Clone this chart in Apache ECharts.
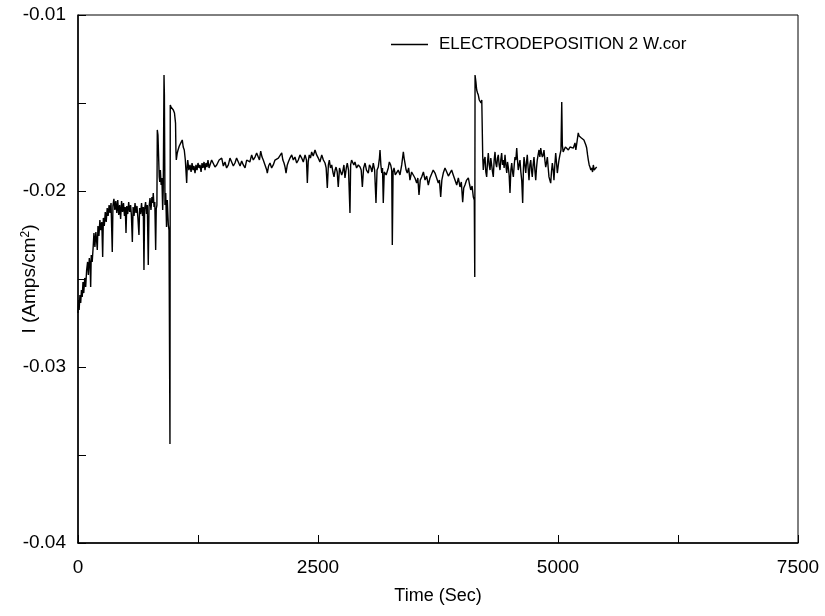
<!DOCTYPE html>
<html>
<head>
<meta charset="utf-8">
<script src="https://cdn.jsdelivr.net/npm/echarts@6/dist/echarts.min.js"></script>
<style>
  html, body { margin: 0; padding: 0; background: #fff; }
  #chart { width: 825px; height: 616px; }
</style>
</head>
<body>
<div id="chart"></div>
<script>
// Current density (A/cm^2) versus time (s), electrodeposition run 2.
// Each segment is a list of [time, current] samples.

// initial ramp: current recovers from about -0.027 towards -0.021
const rampSegment = [
  [0,-0.02693],[6,-0.02619],[12,-0.02676],[20,-0.02591],[28,-0.02636],[36,-0.02563],[44,-0.02602],
  [52,-0.02517],[60,-0.02580],[70,-0.02494],[80,-0.02545],[90,-0.02449],[100,-0.02403],[108,-0.02477],
  [118,-0.02381],[126,-0.02420],[132,-0.02545],[138,-0.02364],[148,-0.02403],[158,-0.02318],[166,-0.02239],
  [176,-0.02318],[186,-0.02233],[194,-0.02284],[201,-0.02335],[208,-0.02199],[218,-0.02256],[228,-0.02165],
  [238,-0.02222],[248,-0.02176],[257,-0.02375],[264,-0.02153],[274,-0.02199],[284,-0.02119],[294,-0.02176],
  [304,-0.02097],[314,-0.02142],[324,-0.02080],[334,-0.02125],[344,-0.02068],[357,-0.02347],[364,-0.02085],
  [374,-0.02045],[384,-0.02108],[394,-0.02057],[404,-0.02125],[414,-0.02051],[424,-0.02136],[434,-0.02080],
  [444,-0.02159],[454,-0.02057],[464,-0.02119],[474,-0.02068],[484,-0.02142],[492,-0.02091],[500,-0.02239],
  [508,-0.02085],[518,-0.02131],[528,-0.02063],[538,-0.02119],[548,-0.02080],[556,-0.02136],[566,-0.02290],
  [574,-0.02091],[584,-0.02142],[594,-0.02068],[604,-0.02125],[614,-0.02085],[624,-0.02153],[635,-0.02250],
  [642,-0.02097],[652,-0.02131],[662,-0.02068],[672,-0.02142],[680,-0.02091],[687,-0.02449],[694,-0.02102],
  [704,-0.02063],[714,-0.02131],[722,-0.02080],[732,-0.02420],[740,-0.02091],[750,-0.02040],[760,-0.02108],
  [770,-0.02034],[778,-0.02068],[784,-0.02011],[792,-0.02091],[800,-0.02063],[809,-0.02335],[815,-0.02102]
];

// transients around 800-1150 s
const transientSegment = [
  [822,-0.02080],[826,-0.01653],[833,-0.01682],[841,-0.01693],[846,-0.01920],[852,-0.01949],[858,-0.01881],
  [866,-0.01966],[874,-0.01926],[882,-0.02108],[888,-0.01994],[896,-0.01341],[900,-0.01455],[906,-0.02080],
  [914,-0.02011],[922,-0.02205],[930,-0.02051],[941,-0.02193],[948,-0.02222],[955,-0.02233],[958,-0.03438],
  [961,-0.01511],[970,-0.01523],[979,-0.01528],[993,-0.01540],[1005,-0.01557],[1016,-0.01614],[1020,-0.01767],
  [1024,-0.01824],[1034,-0.01784],[1042,-0.01767],[1055,-0.01744],[1063,-0.01739],[1075,-0.01722],
  [1086,-0.01710],[1096,-0.01750],[1107,-0.01767],[1118,-0.01824],[1132,-0.01955],[1138,-0.01858],
  [1143,-0.01824]
];

// long plateau, slowly drifting from -0.0185 to -0.0200
const plateauSegment = [
  [1155,-0.01881],[1167,-0.01852],[1178,-0.01892],[1188,-0.01841],[1198,-0.01881],[1208,-0.01858],
  [1219,-0.01898],[1229,-0.01852],[1240,-0.01881],[1250,-0.01841],[1261,-0.01869],[1271,-0.01852],
  [1282,-0.01892],[1292,-0.01841],[1302,-0.01869],[1313,-0.01835],[1323,-0.01881],[1333,-0.01841],
  [1344,-0.01864],[1354,-0.01824],[1365,-0.01869],[1375,-0.01852],[1392,-0.01824],[1409,-0.01835],
  [1427,-0.01864],[1445,-0.01852],[1470,-0.01824],[1497,-0.01813],[1514,-0.01858],[1531,-0.01835],
  [1548,-0.01869],[1566,-0.01852],[1583,-0.01813],[1601,-0.01818],[1618,-0.01858],[1635,-0.01841],
  [1652,-0.01813],[1670,-0.01835],[1688,-0.01858],[1705,-0.01830],[1722,-0.01852],[1740,-0.01869],
  [1757,-0.01824],[1774,-0.01813],[1790,-0.01835],[1809,-0.01795],[1826,-0.01824],[1844,-0.01807],
  [1861,-0.01784],[1878,-0.01795],[1890,-0.01824],[1903,-0.01773],[1917,-0.01807],[1930,-0.01824],
  [1948,-0.01852],[1966,-0.01881],[1972,-0.01898],[1985,-0.01858],[2000,-0.01841],[2017,-0.01869],
  [2034,-0.01852],[2052,-0.01824],[2070,-0.01835],[2087,-0.01813],[2104,-0.01807],[2122,-0.01784],
  [2134,-0.01824],[2146,-0.01841],[2157,-0.01864],[2167,-0.01898],[2180,-0.01852],[2191,-0.01835],
  [2208,-0.01813],[2226,-0.01795],[2243,-0.01824],[2260,-0.01807],[2278,-0.01841],[2295,-0.01824],
  [2312,-0.01795],[2330,-0.01813],[2347,-0.01835],[2365,-0.01795],[2380,-0.01824],[2389,-0.01955],
  [2398,-0.01835],[2409,-0.01795],[2422,-0.01813],[2434,-0.01778],[2450,-0.01801],[2469,-0.01767],
  [2486,-0.01795],[2503,-0.01813],[2520,-0.01835],[2539,-0.01795],[2556,-0.01824],[2573,-0.01841],
  [2585,-0.01869],[2597,-0.01983],[2608,-0.01852],[2618,-0.01824],[2630,-0.01869],[2643,-0.01852],
  [2655,-0.01892],[2667,-0.01920],[2678,-0.01881],[2688,-0.01864],[2700,-0.01892],[2711,-0.01977],
  [2724,-0.01869],[2737,-0.01864],[2747,-0.01909],[2757,-0.01892],[2770,-0.01852],[2781,-0.01926],
  [2795,-0.01869],[2805,-0.01841],[2818,-0.01881],[2828,-0.01892],[2833,-0.02125],[2840,-0.01852],
  [2850,-0.01824],[2862,-0.01813],[2873,-0.01852],[2885,-0.01835],[2902,-0.01869],[2920,-0.01852],
  [2938,-0.01864],[2950,-0.01881],[2962,-0.01977],[2975,-0.01869],[2990,-0.01841],[3005,-0.01881],
  [3024,-0.01898],[3036,-0.01852],[3049,-0.01864],[3062,-0.01892],[3076,-0.01841],[3090,-0.01881],
  [3104,-0.02068],[3115,-0.01881],[3128,-0.01864],[3140,-0.01813],[3146,-0.01767],[3155,-0.01852],
  [3164,-0.01898],[3172,-0.01869],[3180,-0.02068],[3190,-0.01892],[3198,-0.01881],[3210,-0.01909],
  [3222,-0.01920],[3232,-0.01869],[3243,-0.01835],[3257,-0.01852],[3268,-0.01881],[3274,-0.02307],
  [3282,-0.01892],[3292,-0.01869],[3305,-0.01909],[3320,-0.01898],[3336,-0.01881],[3354,-0.01909],
  [3372,-0.01852],[3389,-0.01778],[3397,-0.01813],[3406,-0.01841],[3418,-0.01881],[3430,-0.01898],
  [3444,-0.01869],[3458,-0.01938],[3475,-0.01892],[3493,-0.01898],[3510,-0.01926],[3528,-0.01955],
  [3540,-0.01926],[3552,-0.02023],[3565,-0.01938],[3580,-0.01920],[3598,-0.01892],[3615,-0.01938],
  [3632,-0.01915],[3649,-0.01966],[3666,-0.01926],[3684,-0.01926],[3700,-0.01881],[3719,-0.01898],
  [3736,-0.01926],[3753,-0.01955],[3765,-0.01938],[3778,-0.02034],[3790,-0.01938],[3805,-0.01898],
  [3823,-0.01869],[3841,-0.01892],[3858,-0.01915],[3875,-0.01926],[3892,-0.01881],[3909,-0.01909],
  [3927,-0.01938],[3945,-0.01966],[3962,-0.01926],[3979,-0.01977],[3993,-0.01949],[4007,-0.02063],
  [4018,-0.01983],[4031,-0.01966],[4048,-0.01938],[4066,-0.01926],[4080,-0.01966],[4091,-0.01994],
  [4105,-0.01972],[4118,-0.02034],[4128,-0.02051]
];

// second disturbance near 4130 s and the noisy final stage
const finalSegment = [
  [4133,-0.02489],[4136,-0.01341],[4145,-0.01381],[4153,-0.01426],[4162,-0.01443],[4170,-0.01455],
  [4180,-0.01483],[4188,-0.01483],[4198,-0.01500],[4206,-0.01483],[4211,-0.01494],[4216,-0.01807],
  [4222,-0.01881],[4231,-0.01824],[4240,-0.01807],[4248,-0.01892],[4257,-0.01920],[4266,-0.01835],
  [4274,-0.01784],[4283,-0.01852],[4292,-0.01881],[4300,-0.01813],[4309,-0.01807],[4318,-0.01892],
  [4326,-0.01920],[4335,-0.01824],[4344,-0.01778],[4352,-0.01841],[4361,-0.01864],[4370,-0.01813],
  [4378,-0.01795],[4387,-0.01852],[4396,-0.01881],[4404,-0.01824],[4413,-0.01784],[4422,-0.01852],
  [4430,-0.01824],[4439,-0.01869],[4448,-0.01795],[4457,-0.01852],[4466,-0.01898],[4474,-0.01835],
  [4482,-0.01864],[4491,-0.01909],[4500,-0.02011],[4509,-0.01881],[4518,-0.01841],[4526,-0.01892],
  [4535,-0.01920],[4544,-0.01852],[4552,-0.01807],[4561,-0.01824],[4570,-0.01756],[4578,-0.01824],
  [4586,-0.01881],[4595,-0.01852],[4604,-0.01824],[4613,-0.01892],[4622,-0.01938],[4632,-0.02068],
  [4640,-0.01869],[4646,-0.01807],[4655,-0.01852],[4664,-0.01898],[4672,-0.01835],[4680,-0.01795],
  [4689,-0.01869],[4698,-0.01938],[4707,-0.01852],[4716,-0.01824],[4724,-0.01881],[4732,-0.01920],
  [4741,-0.01852],[4750,-0.01807],[4759,-0.01881],[4768,-0.01938],[4776,-0.01869],[4784,-0.01824],
  [4793,-0.01795],[4802,-0.01767],[4811,-0.01807],[4820,-0.01756],[4828,-0.01784],[4837,-0.01807],
  [4846,-0.01795],[4854,-0.01767],[4863,-0.01824],[4872,-0.01864],[4880,-0.01841],[4889,-0.01807],
  [4898,-0.01869],[4906,-0.01920],[4915,-0.01938],[4924,-0.01955],[4932,-0.01892],[4941,-0.01841],
  [4950,-0.01881],[4958,-0.01938],[4967,-0.01852],[4976,-0.01784],[4984,-0.01835],[4993,-0.01898],
  [5002,-0.01858],[5010,-0.01824],[5020,-0.01795],[5031,-0.01767],[5039,-0.01494],[5045,-0.01739],
  [5054,-0.01778],[5063,-0.01767],[5077,-0.01750],[5091,-0.01756],[5108,-0.01767],[5125,-0.01750],
  [5142,-0.01739],[5160,-0.01756],[5177,-0.01727],[5186,-0.01767],[5195,-0.01778],[5211,-0.01670],
  [5220,-0.01688],[5229,-0.01693],[5244,-0.01699],[5258,-0.01699],[5270,-0.01710],[5281,-0.01710],
  [5290,-0.01739],[5299,-0.01756],[5308,-0.01795],[5316,-0.01824],[5325,-0.01852],[5333,-0.01864],
  [5342,-0.01881],[5351,-0.01869],[5360,-0.01892],[5368,-0.01852],[5377,-0.01881],[5385,-0.01892],
  [5394,-0.01869],[5403,-0.01864]
];

const seriesName = 'ELECTRODEPOSITION 2 W.cor';
const xTitle = 'Time (Sec)';
const yTitle = 'I (Amps/cm{sup|2})';
const xRange = [0, 7500];
const yRange = [-0.04, -0.01];

const currentTrace = rampSegment.concat(transientSegment, plateauSegment, finalSegment);

const FONT = '"Liberation Sans", Arial, Helvetica, sans-serif';
const chart = echarts.init(document.getElementById('chart'), null, { renderer: 'canvas' });

chart.setOption({
  animation: false,
  backgroundColor: '#ffffff',
  grid: {
    left: 78, right: 27, top: 15, bottom: 73,
    outerBoundsMode: 'none',
    containLabel: false,
    show: true, borderColor: '#000', borderWidth: 1
  },
  legend: {
    left: 386, top: 31,
    icon: 'rect',
    itemWidth: 37, itemHeight: 1.3,
    itemStyle: { color: '#000', borderWidth: 0 },
    textStyle: { fontFamily: FONT, fontSize: 17, color: '#000', padding: [0, 0, 0, 6] },
    data: [seriesName]
  },
  xAxis: {
    type: 'value',
    min: xRange[0], max: xRange[1], interval: 1250,
    name: xTitle, nameLocation: 'middle', nameGap: 44,
    nameMoveOverlap: false,
    nameTextStyle: { fontFamily: FONT, fontSize: 18, color: '#000' },
    axisLine: { show: true, lineStyle: { color: '#000', width: 1.5 } },
    axisTick: { show: true, inside: true, length: 8, lineStyle: { color: '#000' } },
    axisLabel: {
      margin: 15, interval: 0, fontFamily: FONT, fontSize: 19, color: '#000',
      formatter: v => (v % 2500 === 0 ? String(v) : '')
    },
    splitLine: { show: false }
  },
  yAxis: {
    type: 'value',
    min: yRange[0], max: yRange[1], interval: 0.005,
    name: yTitle, nameLocation: 'middle', nameGap: 38, nameRotate: 90,
    nameMoveOverlap: false,
    nameTextStyle: {
      fontFamily: FONT, fontSize: 19, color: '#000',
      rich: { sup: { fontFamily: FONT, fontSize: 12, color: '#000', verticalAlign: 'top', padding: [0, 0, 8, 0] } }
    },
    axisLine: { show: true, lineStyle: { color: '#000', width: 1.5 } },
    axisTick: { show: true, inside: true, length: 8, lineStyle: { color: '#000' } },
    axisLabel: {
      margin: 12, interval: 0, fontFamily: FONT, fontSize: 19, color: '#000',
      formatter: v => (Math.round(v * 1000) % 10 === 0 ? v.toFixed(2) : '')
    },
    splitLine: { show: false }
  },
  series: [{
    name: seriesName,
    type: 'line',
    data: currentTrace,
    showSymbol: false,
    symbol: 'none',
    lineStyle: { color: '#000', width: 1.4 },
    itemStyle: { color: '#000' }
  }]
});
</script>
</body>
</html>
